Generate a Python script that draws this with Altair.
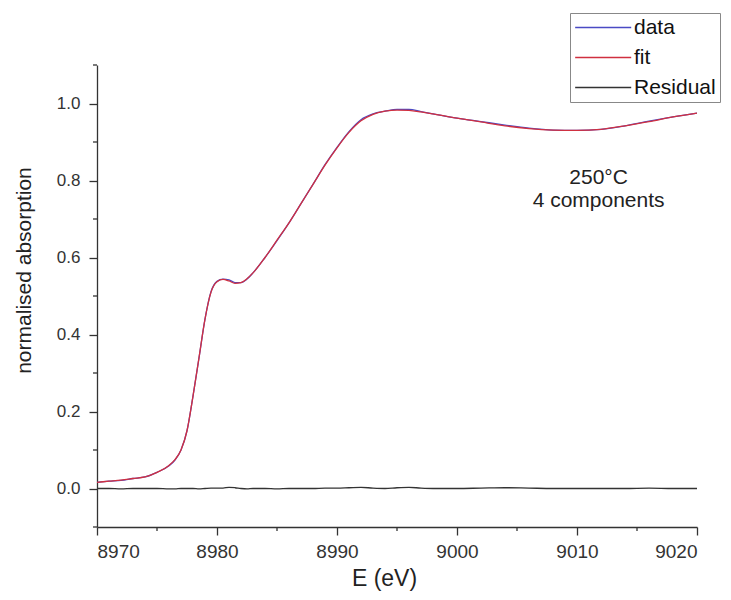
import altair as alt
import pandas as pd

# ---- data ----
energy = [8970, 8971, 8972, 8973, 8974, 8975, 8976, 8976.5, 8977, 8977.5, 8978, 8978.5,
          8979, 8979.5, 8980, 8980.5, 8981, 8981.5, 8982, 8982.5, 8983, 8984, 8985, 8986,
          8987, 8988, 8989, 8990, 8991, 8992, 8993, 8994, 8995, 8996, 8997, 8998, 9000,
          9002, 9004, 9006, 9008, 9010, 9012, 9014, 9016, 9018, 9020]
fit_vals = [0.016, 0.019, 0.022, 0.026, 0.030, 0.042, 0.060, 0.075, 0.100, 0.150, 0.240, 0.340,
            0.440, 0.510, 0.537, 0.543, 0.539, 0.533, 0.535, 0.545, 0.560, 0.600, 0.645, 0.690,
            0.740, 0.790, 0.840, 0.885, 0.925, 0.955, 0.972, 0.980, 0.983, 0.982, 0.978, 0.973,
            0.962, 0.952, 0.942, 0.935, 0.931, 0.930, 0.933, 0.942, 0.953, 0.965, 0.975]
resid_vals = [0.000, 0.000, -0.001, 0.000, 0.000, 0.000, -0.001, -0.001, 0.000, 0.000, 0.000, -0.001,
              0.000, 0.001, 0.001, 0.001, 0.003, 0.002, 0.000, -0.001, 0.000, 0.000, -0.001, 0.000,
              0.000, 0.000, 0.001, 0.001, 0.002, 0.003, 0.001, 0.000, 0.002, 0.003, 0.001, 0.000,
              0.000, 0.001, 0.002, 0.001, 0.000, 0.000, 0.000, 0.000, 0.001, 0.000, 0.000]
data_vals = [f + r for f, r in zip(fit_vals, resid_vals)]

series_names = ["data", "fit", "Residual"]
series_colors = ["#4a4ac4", "#d03040", "#333333"]

x_major = [8970, 8980, 8990, 9000, 9010, 9020]
x_minor = [8975, 8985, 8995, 9005, 9015]
y_major = [0.0, 0.2, 0.4, 0.6, 0.8, 1.0]
y_minor = [-0.1, 0.1, 0.3, 0.5, 0.7, 0.9, 1.1]

note_lines = ["250°C", "4 components"]
note_x = [9011.8, 9011.8]
note_y = [0.792, 0.730]

rows = []
for name, vals in zip(series_names, [data_vals, fit_vals, resid_vals]):
    for e, v in zip(energy, vals):
        rows.append({"E": e, "value": v, "series": name})
df = pd.DataFrame(rows)
notes = pd.DataFrame({"E": note_x, "value": note_y, "text": note_lines})
xminor_df = pd.DataFrame({"E": x_minor})
yminor_df = pd.DataFrame({"value": y_minor})

FONT = "Liberation Sans"
W, H = 600, 462
xs = alt.Scale(domain=[8970, 9020], nice=False, zero=False)
ys = alt.Scale(domain=[-0.1, 1.1], nice=False, zero=False)

axis_common = dict(grid=False, domainColor="#333333", tickColor="#333333",
                   labelColor="#333333", titleColor="#222222", labelFont=FONT,
                   titleFont=FONT, titleFontWeight="normal", domainWidth=1.3,
                   tickWidth=1.3, tickSize=8)

x_axis = alt.Axis(values=x_major, format="d", title="E (eV)", labelFontSize=19,
                  titleFontSize=23, labelPadding=7, titlePadding=6, titleX=287,
                  orient="bottom", **axis_common)
y_axis = alt.Axis(values=y_major, format=".1f", title="normalised absorption",
                  labelFontSize=17, titleFontSize=21, labelPadding=9,
                  titlePadding=22, titleY=205, orient="left", **axis_common)


def X(field):
    return alt.X(field, scale=xs, axis=x_axis)


def Y(field):
    return alt.Y(field, scale=ys, axis=y_axis)


lines = alt.Chart(df).mark_line(strokeWidth=1.3, interpolate="monotone").encode(
    x=X("E:Q"),
    y=Y("value:Q"),
    color=alt.Color("series:N",
                    scale=alt.Scale(domain=series_names, range=series_colors),
                    sort=series_names,
                    legend=alt.Legend(title=None, orient="none", legendX=473, legendY=-52,
                                      symbolType="M-1,0H5", symbolSize=349,
                                      symbolStrokeWidth=1.5, labelFontSize=21,
                                      labelFont=FONT, labelColor="#111111",
                                      strokeColor="#888888", fillColor="white",
                                      padding=4, rowPadding=8, labelOffset=39)),
    order=alt.Order("series:N"),
)

xminor = alt.Chart(xminor_df).mark_rule(color="#333333", strokeWidth=1.3).encode(
    x=X("E:Q"),
    y=alt.value(H), y2=alt.value(H + 4),
)
yminor = alt.Chart(yminor_df).mark_rule(color="#333333", strokeWidth=1.3).encode(
    y=Y("value:Q"),
    x=alt.value(0), x2=alt.value(-4),
)

text = alt.Chart(notes).mark_text(font=FONT, fontSize=21, color="#222222",
                                  align="center", baseline="alphabetic").encode(
    x=X("E:Q"),
    y=Y("value:Q"),
    text="text:N",
)

chart = alt.layer(lines, xminor, yminor, text).properties(
    width=W, height=H,
    autosize=alt.AutoSizeParams(type="none"),
    padding={"left": 89, "top": 57, "right": 26, "bottom": 65},
).configure_view(stroke=None)

chart.save("out.html", embed_options={"renderer": "svg", "actions": False})
